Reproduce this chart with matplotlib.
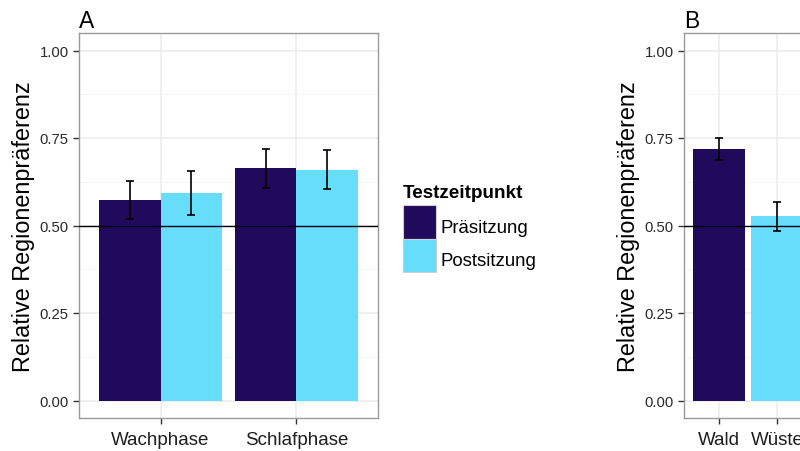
import matplotlib
matplotlib.use("Agg")
import matplotlib.pyplot as plt
from matplotlib.patches import Rectangle
import numpy as np

plt.rcParams['font.family'] = ['Liberation Sans', 'DejaVu Sans']

# ---- data ----
phases = ["Wachphase", "Schlafphase"]
groups = ["Präsitzung", "Postsitzung"]
pre_mean = [0.572, 0.663]
pre_err = [0.054, 0.055]
post_mean = [0.593, 0.660]
post_err = [0.062, 0.055]

regions = ["Wald", "Wüste"]
region_mean = [0.718, 0.526]
region_err = [0.032, 0.042]

yticks = [0.00, 0.25, 0.50, 0.75, 1.00]
ytick_labels = ["0.00", "0.25", "0.50", "0.75", "1.00"]
minor_ticks = [0.125, 0.375, 0.625, 0.875]

DARK = "#200A5C"
LIGHT = "#66DDFA"
W, H = 800, 452

fig = plt.figure(figsize=(8, 4.52), dpi=100)
fig.patch.set_facecolor("white")


def px(l, t, r, b):
    return [l / W, (H - b) / H, (r - l) / W, (b - t) / H]


def style(ax, xticks, xlabels, xlim):
    ax.set_xlim(*xlim)
    ax.set_ylim(-0.05, 1.05)
    ax.set_yticks(yticks)
    ax.set_yticklabels(ytick_labels)
    ax.set_yticks(minor_ticks, minor=True)
    ax.set_xticks(xticks)
    ax.set_xticklabels(xlabels)
    ax.grid(True, which="major", color="#EBEBEB", lw=1.1, zorder=0)
    ax.grid(True, which="minor", axis="y", color="#F5F5F5", lw=0.6, zorder=0)
    ax.set_axisbelow(True)
    ax.tick_params(axis="y", which="minor", length=0)
    ax.tick_params(axis="y", which="major", length=4.5, width=1.0, color="#333333",
                   labelsize=10.7, labelcolor="#2A2A2A", pad=3)
    ax.tick_params(axis="x", which="major", length=4, width=1.0, color="#333333",
                   labelsize=13.5, labelcolor="#1E1E1E", pad=5.5)
    for s in ax.spines.values():
        s.set_color("#9A9A9A")
        s.set_linewidth(1.0)
    ax.axhline(0.5, color="black", lw=1.0, zorder=4)


EB = dict(fmt="none", ecolor="black", elinewidth=1.2, capsize=2.8, capthick=1.2, zorder=5)

# ---- Panel A ----
axA = fig.add_axes(px(79, 34, 378, 419))
x = np.arange(1, len(phases) + 1)
bw = 0.45
axA.bar(x - bw / 2, pre_mean, bw, color=DARK, zorder=2)
axA.bar(x + bw / 2, post_mean, bw, color=LIGHT, zorder=2)
axA.errorbar(x - bw / 2, pre_mean, yerr=pre_err, **EB)
axA.errorbar(x + bw / 2, post_mean, yerr=post_err, **EB)
style(axA, x, phases, (0.4, 2.6))
fig.text(79 / W, (H - 28) / H, "A", fontsize=16.5, ha="left", va="baseline")
fig.text(24 / W, (H - 227) / H, "Relative Regionenpräferenz", rotation=90,
         fontsize=16.8, ha="center", va="center")

# ---- Panel B (cropped at right edge) ----
axB = fig.add_axes(px(684, 34, 684 + 58.3 * 3.2, 419))
xr = np.arange(1, len(regions) + 1)
axB.bar(xr, region_mean, 0.9, color=[DARK, LIGHT], zorder=2)
axB.errorbar(xr, region_mean, yerr=region_err, **EB)
style(axB, xr, regions, (0.4, 3.6))
fig.text(684 / W, (H - 28) / H, "B", fontsize=16.5, ha="left", va="baseline")
fig.text(628 / W, (H - 227) / H, "Relative Regionenpräferenz", rotation=90,
         fontsize=16.8, ha="center", va="center")

# ---- Legend (drawn manually in figure pixels) ----
fig.text(403 / W, (H - 198.5) / H, "Testzeitpunkt", fontsize=13.6, fontweight="bold",
         ha="left", va="baseline")
key_tops = [206, 239.5]
for top, col, lab in zip(key_tops, [DARK, LIGHT], groups):
    fig.add_artist(Rectangle((403 / W, (H - top - 33.5) / H), 33 / W, 33.5 / H,
                             transform=fig.transFigure, facecolor=col,
                             edgecolor="#D0D0D0", lw=0.8))
    fig.text(440 / W, (H - top - 27) / H, lab, fontsize=13.4, ha="left", va="baseline")

fig.savefig("out.png", dpi=100, facecolor="white")
